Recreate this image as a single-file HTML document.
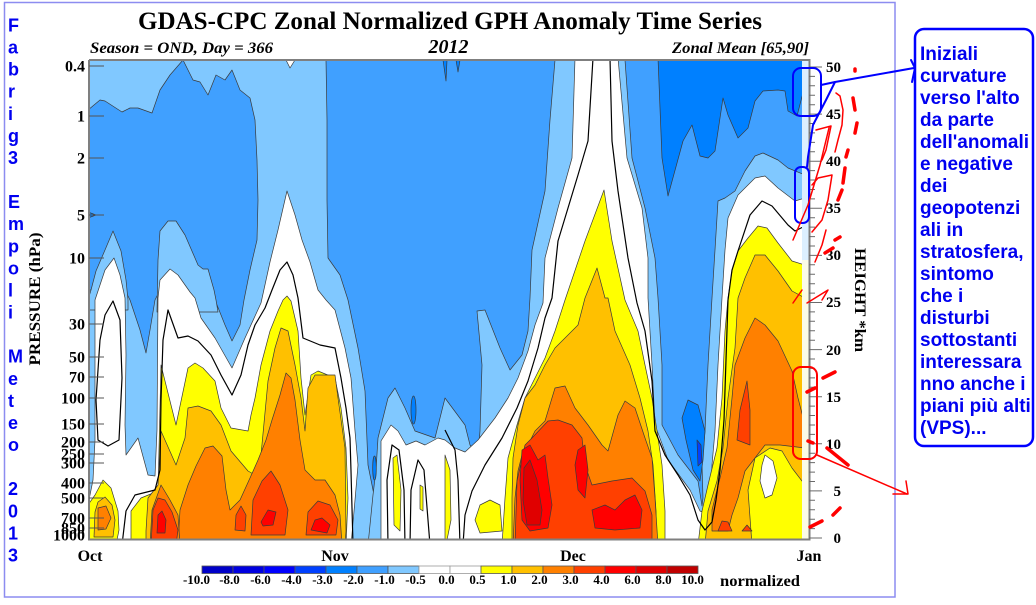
<!DOCTYPE html>
<html><head><meta charset="utf-8"><style>html,body{margin:0;padding:0;background:#fff}svg{display:block}</style></head>
<body>
<svg width="1036" height="605" viewBox="0 0 1036 605" xmlns="http://www.w3.org/2000/svg" font-family="'Liberation Serif', serif">
<rect width="1036" height="605" fill="#fff"/>
<rect x="4.5" y="2.5" width="890.5" height="594.5" fill="none" stroke="#8c8cf0" stroke-width="1.5"/>
<defs><clipPath id="c"><rect x="89" y="60" width="713" height="479"/></clipPath></defs>
<g clip-path="url(#c)" stroke="#3a3a3a" stroke-width="0.7" stroke-linejoin="round">
<rect x="80" y="50" width="730" height="500" fill="#40a0ff" stroke="none"/>
<polygon fill="#80c8ff" points="89,60 326,60 327,120 327,200 328,258 340,275 348,300 358,348 365,391 368,465 375,500 382,545 89,545"/>
<polygon fill="#40a0ff" points="88,110 100,100 105,101 122,112 130,108 138,108 152,113 160,90 170,75 183,60 193,80 200,82 208,95 216,75 225,80 232,70 240,90 250,98 255,120 257,160 258,200 257,240 250,270 244,300 240,325 232,341 225,325 215,300 210,290 160,290 155,300 150,330 146,353 140,330 130,300 125,290 88,290"/>
<polygon fill="#0080ff" points="88,212 96,215 88,218"/>
<polygon fill="#80c8ff" points="88,300 91,290 96,271 105,250 113,231 121,251 126,280 128,300 128,310 88,310"/>
<polygon fill="#80c8ff" points="157,312 158,260 160,231 168,221 176,221 185,235 198,265 203,269 208,269 214,290 216,300 218,312"/>
<polygon fill="#fff" points="286,60 295,60 290,68"/>
<polygon fill="#0080ff" points="443,60 447,60 446,81"/>
<polygon fill="#0080ff" points="456,60 460,60 458,72"/>
<polygon fill="#80c8ff" points="368,545 373,495 376,470 378,438 388,398 395,388 405,408 415,431 435,438 445,398 465,425 470,445 478,455 480,431 482,365 477,311 485,310 500,348 510,370 522,355 528,331 530,298 532,250 545,191 550,120 555,60 625,60 632,158 645,208 655,258 658,298 662,365 662,425 678,455 698,481 702,506 703,498 702,465 705,431 708,365 712,298 715,250 718,201 725,198 735,191 745,171 755,156 763,153 778,160 788,168 805,175 805,545"/>
<polygon fill="#0080ff" points="658,58 805,58 805,85 797,116 788,111 785,91 778,90 763,91 755,101 748,128 738,138 728,115 723,98 720,118 715,151 708,158 700,156 692,125 683,141 668,196 662,158"/>
<polygon fill="#0080ff" points="688,400 698,405 705,431 703,460 700,481 693,470 686,440 682,418"/>
<polygon fill="#0040ff" points="697,440 701,445 702,462 698,466"/>
<ellipse cx="413.5" cy="410" rx="2.5" ry="14" fill="#0080ff"/>
<ellipse cx="374.5" cy="468" rx="1.8" ry="12" fill="#0080ff"/>
<polygon fill="#fff" points="88,545 88,505 93,480 95,440 95,300 100,285 105,270 114,258 120,275 125,298 126,355 125,425 126,455 138,438 148,475 155,476 157,430 158,298 160,280 170,269 178,275 190,292 195,298 201,318 215,338 232,368 245,338 261,303 270,262 278,230 287,191 295,215 302,240 310,262 318,290 326,300 335,310 345,348 351,378 355,431 358,465 355,500 351,545"/>
<polygon fill="#fff" points="381,545 381,441 391,425 398,431 406,445 416,441 425,445 438,438 445,440 455,448 465,452 478,440 495,418 508,398 518,378 528,351 535,325 543,303 545,258 558,208 572,158 575,58 618,58 627,158 642,208 648,258 648,298 652,365 655,425 668,460 690,490 700,511 705,513 710,505 712,465 715,431 718,365 722,298 725,250 728,218 738,195 755,178 765,176 778,188 795,201 805,198 805,545"/>
<polygon fill="#ffff00" points="131,545 131,511 141,498 158,491 161,365 176,425 188,368 195,363 203,368 215,381 221,408 231,428 248,431 251,415 255,398 261,365 270,331 278,311 283,300 287,296 291,301 298,331 301,378 305,415 311,375 318,371 335,378 341,408 346,448 348,498 346,545"/>
<polygon fill="#ffff00" points="88,545 88,505 95,495 103,480 111,488 118,511 119,530 116,545"/>
<polygon fill="#ffc000" points="146,545 146,531 148,498 158,485 161,431 176,465 185,438 188,408 198,406 211,411 221,425 231,451 248,471 255,475 261,455 268,381 275,348 281,328 288,331 295,365 301,398 305,431 308,388 315,375 335,375 338,398 345,448 346,531 345,545"/>
<polygon fill="#ffc000" points="94,537 95,512 98,502 105,497 112,505 115,520 113,537"/>
<polygon fill="#ff8000" points="98,530 98,508 106,506 111,518 106,529"/>
<polygon fill="#ff8000" points="178,545 180,510 188,485 196,466 205,448 213,446 222,456 226,490 230,510 240,500 250,478 258,460 266,440 272,420 280,395 286,373 291,378 295,400 300,440 305,470 315,480 325,480 335,495 340,515 342,545"/>
<polygon fill="#ff8000" points="150,545 152,510 161,485 170,500 178,515 180,545"/>
<polygon fill="#ff4000" points="151,545 153,510 158,498 165,500 172,512 178,530 176,545"/>
<polygon fill="#ff4000" points="235,530 236,515 241,506 246,515 245,531"/>
<polygon fill="#ff4000" points="251,535 253,500 262,481 271,471 280,485 288,510 285,535"/>
<polygon fill="#ff4000" points="306,535 308,512 318,501 330,505 338,520 336,535"/>
<polygon fill="#ff0000" points="157,533 158,515 162,511 166,520 165,533"/>
<polygon fill="#ff0000" points="261,522 268,510 276,512 273,525 263,526"/>
<polygon fill="#ff0000" points="311,530 315,520 322,518 330,525 327,533"/>
<polygon fill="#ffff00" points="502,545 505,498 508,458 517,425 525,398 535,378 545,358 555,331 565,300 585,241 604,190 612,241 625,300 638,331 645,365 652,398 657,431 662,465 665,511 665,545"/>
<polygon fill="#ffff00" points="475,520 480,505 490,500 500,505 502,531 480,533"/>
<polygon fill="#ffff00" points="445,455 450,470 451,520 447,540 445,540"/>
<polygon fill="#ffff00" points="393,458 397,455 401,490 400,531 394,525"/>
<polygon fill="#ffff00" points="420,485 423,487 423,511 420,509"/>
<polygon fill="#ffff00" points="698,545 702,511 708,485 717,448 722,398 725,331 728,298 732,271 738,251 748,238 758,226 767,228 778,243 792,261 805,265 805,545"/>
<polygon fill="#ffc000" points="512,545 512,498 513,458 518,425 525,398 535,385 545,365 555,348 568,335 578,325 585,298 597,268 605,298 608,298 615,331 630,365 640,398 648,431 653,465 656,511 656,545"/>
<polygon fill="#ffc000" points="705,545 708,511 717,481 723,448 728,398 735,348 738,298 745,278 755,255 765,255 778,271 792,291 805,298 805,545"/>
<polygon fill="#ff8000" points="513,545 515,498 518,471 522,455 528,445 535,431 545,421 555,388 565,386 575,408 588,425 602,445 608,451 618,415 625,401 635,408 645,438 652,458 655,498 658,545"/>
<polygon fill="#ff8000" points="712,531 712,510 720,478 727,448 732,398 735,365 745,338 755,318 765,325 778,341 792,371 798,398 805,425 805,448 780,445 765,445 755,458 745,471 738,498 732,515 728,531"/>
<polygon fill="#ffff00" points="752,545 748,490 755,458 770,448 782,451 792,468 805,485 805,545"/>
<polygon fill="#fff" points="765,455 773,461 777,478 772,495 765,498 760,481 762,465"/>
<polygon fill="#ff4000" points="737,440 740,410 747,381 750,410 750,445"/>
<polygon fill="#ff4000" points="718,531 722,521 728,522 732,531"/>
<polygon fill="#ff4000" points="742,531 747,525 752,531"/>
<polygon fill="#ff4000" points="525,445 532,438 548,421 558,420 572,425 582,438 585,465 592,485 612,481 632,478 645,491 652,515 652,545 515,545 517,481"/>
<polygon fill="#ff0000" points="522,450 530,445 538,460 545,455 548,478 552,505 548,528 530,531 522,520 520,480"/>
<polygon fill="#ff0000" points="578,450 585,445 588,470 585,498 578,490 575,465"/>
<polygon fill="#ff0000" points="592,510 605,505 615,510 625,500 635,495 642,510 640,528 615,530 595,528"/>
<polygon fill="#e00000" points="524,468 530,460 537,480 542,510 540,525 527,525 523,500"/>
<g fill="none" stroke="#000" stroke-width="1.2">
<polyline points="122,545 126,511 135,495 155,490 160,470 161,400 163,340 168,310 178,338 188,336 198,341 211,355 221,375 232,395 241,375 248,345 255,325 265,308 272,290 280,270 287,262 293,275 298,298 303,338 320,345 335,348 341,378 346,408 350,438 351,471 353,545"/>
<polygon points="113,301 120,320 122,378 119,440 108,446 98,440 96,400 100,340 105,315"/>
<polyline points="593,58 588,141 578,175 558,241 552,298 545,318 538,348 528,381 517,408 502,438 485,465 472,491 465,515 463,545"/>
<polyline points="610,58 612,141 618,191 628,258 637,303 645,331 652,381 655,431 665,455 678,475 690,495 698,520 705,530 712,522 716,500 720,470 724,420 726,360 728,300 732,270 738,251 750,215 762,201 772,206 788,225 795,231 805,226"/>
<polyline points="445,430 455,450 458,480 460,545"/>
<polyline points="388,545 387,480 392,445 399,450 404,490 405,545"/>
<polyline points="410,545 411,490 418,460 424,470 428,520 430,545"/>
</g>
</g>
<rect x="802" y="60" width="7" height="200" fill="#dcefff"/>
<rect x="802" y="260" width="7" height="279" fill="#fbfbe6"/>
<path d="M89,60 V539.5 H809.5 V60 H89" fill="none" stroke="#7f7f7f" stroke-width="2"/>
<g stroke="#555" stroke-width="1">
<line x1="89" y1="66" x2="104" y2="66"/><line x1="89" y1="116" x2="104" y2="116"/><line x1="89" y1="158" x2="104" y2="158"/><line x1="89" y1="215" x2="104" y2="215"/><line x1="89" y1="258" x2="104" y2="258"/><line x1="89" y1="324" x2="104" y2="324"/><line x1="89" y1="357" x2="104" y2="357"/><line x1="89" y1="377" x2="104" y2="377"/><line x1="89" y1="398" x2="104" y2="398"/><line x1="89" y1="424" x2="104" y2="424"/><line x1="89" y1="442" x2="104" y2="442"/><line x1="89" y1="454" x2="104" y2="454"/><line x1="89" y1="463" x2="104" y2="463"/><line x1="89" y1="483" x2="104" y2="483"/><line x1="89" y1="498" x2="104" y2="498"/><line x1="89" y1="518" x2="104" y2="518"/><line x1="89" y1="528" x2="104" y2="528"/>
</g>
<g font-weight="bold" font-size="16" text-anchor="end" fill="#000">
<text x="85" y="71.5">0.4</text><text x="85" y="121.5">1</text><text x="85" y="163.5">2</text><text x="85" y="220.5">5</text><text x="85" y="263.5">10</text><text x="85" y="329.5">30</text><text x="85" y="362.5">50</text><text x="85" y="382.5">70</text><text x="85" y="403.5">100</text><text x="85" y="429.5">150</text><text x="85" y="447.5">200</text><text x="85" y="459.5">250</text><text x="85" y="468.5">300</text><text x="85" y="488.5">400</text><text x="85" y="503.5">500</text><text x="85" y="523.5">700</text><text x="85" y="533.5">850</text><text x="85" y="540.5">1000</text>
</g>
<g stroke="#6a6a6a" stroke-width="1">
<path d="M809,538h6M809,528.6h6M809,519.2h6M809,509.7h6M809,500.3h6M809,490.9h13M809,481.5h6M809,472.1h6M809,462.6h6M809,453.2h6M809,443.8h13M809,434.4h6M809,425h6M809,415.5h6M809,406.1h6M809,396.7h13M809,387.3h6M809,377.9h6M809,368.4h6M809,359h6M809,349.6h13M809,340.2h6M809,330.8h6M809,321.3h6M809,311.9h6M809,302.5h13M809,293.1h6M809,283.7h6M809,274.2h6M809,264.8h6M809,255.4h13M809,246h6M809,236.6h6M809,227.1h6M809,217.7h6M809,208.3h13M809,198.9h6M809,189.5h6M809,180h6M809,170.6h6M809,161.2h13M809,151.8h6M809,142.4h6M809,132.9h6M809,123.5h6M809,114.1h13M809,104.7h6M809,95.3h6M809,85.8h6M809,76.4h6M809,67h13M809,538h13"/>
</g>
<g font-weight="bold" font-size="15" text-anchor="end" fill="#000">
<text x="841" y="72">50</text><text x="841" y="119">45</text><text x="841" y="166">40</text><text x="841" y="213">35</text><text x="841" y="260">30</text><text x="841" y="307">25</text><text x="841" y="355">20</text><text x="841" y="402">15</text><text x="841" y="449">10</text><text x="841" y="496">5</text><text x="841" y="543">0</text>
</g>
<text x="138" y="29" font-size="25" font-weight="bold" textLength="624" lengthAdjust="spacingAndGlyphs">GDAS-CPC Zonal Normalized GPH Anomaly Time Series</text>
<text x="90" y="53" font-size="16" font-weight="bold" font-style="italic" textLength="183" lengthAdjust="spacingAndGlyphs">Season = OND, Day = 366</text>
<text x="448.5" y="53" font-size="20" font-weight="bold" font-style="italic" text-anchor="middle">2012</text>
<text x="672" y="53" font-size="16" font-weight="bold" font-style="italic" textLength="137" lengthAdjust="spacingAndGlyphs">Zonal Mean [65,90]</text>
<text transform="translate(40,299) rotate(-90)" font-size="16" font-weight="bold" text-anchor="middle" textLength="133" lengthAdjust="spacingAndGlyphs">PRESSURE (hPa)</text>
<text transform="translate(855,300) rotate(90)" font-size="16" font-weight="bold" text-anchor="middle" textLength="104" lengthAdjust="spacingAndGlyphs">HEIGHT *km</text>
<g font-size="16" font-weight="bold" text-anchor="middle">
<text x="90" y="561">Oct</text><text x="335" y="561">Nov</text><text x="573" y="561">Dec</text><text x="809" y="561">Jan</text>
</g>
<g stroke="#555" stroke-width="0.8">
<rect x="202" y="566" width="31" height="7.5" fill="#0000c8"/><rect x="233" y="566" width="31" height="7.5" fill="#0000e0"/><rect x="264" y="566" width="31" height="7.5" fill="#0000ff"/><rect x="295" y="566" width="31" height="7.5" fill="#0040ff"/><rect x="326" y="566" width="31" height="7.5" fill="#0080ff"/><rect x="357" y="566" width="31" height="7.5" fill="#40a0ff"/><rect x="388" y="566" width="31" height="7.5" fill="#80c8ff"/><rect x="419" y="566" width="31" height="7.5" fill="#fff" stroke="#999"/><rect x="450" y="566" width="31" height="7.5" fill="#fff" stroke="#999"/><rect x="481" y="566" width="31" height="7.5" fill="#ffff00"/><rect x="512" y="566" width="31" height="7.5" fill="#ffc000"/><rect x="543" y="566" width="31" height="7.5" fill="#ff8000"/><rect x="574" y="566" width="31" height="7.5" fill="#ff4000"/><rect x="605" y="566" width="31" height="7.5" fill="#ff0000"/><rect x="636" y="566" width="31" height="7.5" fill="#e00000"/><rect x="667" y="566" width="31" height="7.5" fill="#c00000"/>
</g>
<g font-size="13" font-weight="bold" text-anchor="middle">
<text x="196.5" y="584">-10.0</text><text x="229.5" y="584">-8.0</text><text x="260.5" y="584">-6.0</text><text x="291.5" y="584">-4.0</text><text x="322.5" y="584">-3.0</text><text x="353.5" y="584">-2.0</text><text x="384.5" y="584">-1.0</text><text x="415.5" y="584">-0.5</text><text x="446.5" y="584">0.0</text><text x="477.5" y="584">0.5</text><text x="508.5" y="584">1.0</text><text x="539.5" y="584">2.0</text><text x="570.5" y="584">3.0</text><text x="601.5" y="584">4.0</text><text x="632.5" y="584">6.0</text><text x="663.5" y="584">8.0</text><text x="692.5" y="584">10.0</text>
</g>
<text x="720" y="586" font-size="16" font-weight="bold" textLength="80" lengthAdjust="spacingAndGlyphs">normalized</text>
<g font-family="'Liberation Sans', sans-serif" font-weight="bold" font-size="18" fill="#0000f0">
<text x="8" y="31.5">F</text><text x="8" y="53.6">a</text><text x="8" y="75.7">b</text><text x="8" y="97.7">r</text><text x="8" y="119.8">i</text><text x="8" y="141.9">g</text><text x="8" y="164">3</text>
<text x="8" y="208.2">E</text><text x="8" y="230.2">m</text><text x="8" y="252.3">p</text><text x="8" y="274.4">o</text><text x="8" y="296.5">l</text><text x="8" y="318.6">i</text>
<text x="8" y="362.7">M</text><text x="8" y="384.8">e</text><text x="8" y="406.9">t</text><text x="8" y="429">e</text><text x="8" y="451.1">o</text>
<text x="8" y="495.2">2</text><text x="8" y="517.3">0</text><text x="8" y="539.4">1</text><text x="8" y="561.5">3</text>
</g>
<rect x="915" y="29" width="118" height="417" rx="9" fill="#fff" stroke="#0000ff" stroke-width="2.5"/>
<g font-family="'Liberation Sans', sans-serif" font-weight="bold" font-size="19" fill="#0000f0">
<text x="920" y="60">Iniziali</text><text x="920" y="82">curvature</text><text x="920" y="104">verso l'alto</text><text x="920" y="126">da parte</text><text x="920" y="148">dell'anomali</text><text x="920" y="170">e negative</text><text x="920" y="192">dei</text><text x="920" y="214">geopotenzi</text><text x="920" y="236">ali in</text><text x="920" y="258">stratosfera,</text><text x="920" y="280">sintomo</text><text x="920" y="302">che i</text><text x="920" y="324">disturbi</text><text x="920" y="346">sottostanti</text><text x="920" y="368">interessara</text><text x="920" y="390">nno anche i</text><text x="920" y="412">piani più alti</text><text x="920" y="434">(VPS)...</text>
</g>
<g fill="none" stroke="#0000ff" stroke-width="2" stroke-linecap="round" stroke-linejoin="round">
<rect x="793" y="68" width="28" height="48" rx="8"/>
<rect x="795" y="167" width="14" height="56" rx="6"/>
<polyline points="821,85 835,82 914,68"/>
<polyline points="835,82 826,100 813,125 808,157 807,167"/>
<polyline points="911,60 915,68 912,82"/>
</g>
<g fill="none" stroke="#ff0000" stroke-width="1.5" stroke-linecap="round" stroke-linejoin="round">
<rect x="793" y="367" width="24" height="92" rx="8" stroke-width="2"/>
<polyline points="817,455 907,494"/>
<polyline points="906,481 908,494 893,494"/>
<polyline points="793,240 808,205 820,165 829,128"/>
<polyline points="816,130 831,126 826,150 822,160"/>
<polyline points="812,185 818,178 832,175 828,200 822,220 812,232"/>
<polyline points="836,93 840,96 843,110 842,125 838,140 835,152"/>
<polyline points="793,303 802,290"/>
<polyline points="807,303 828,290 822,300"/>
<polyline points="815,262 822,245 826,230"/>
</g>
<g stroke="#ff0000" stroke-width="3.5" stroke-linecap="round" fill="none">
<path d="M855,69v2M853,98l2,12M857,123l-2,10M848,150l-2,7M845,168l-2,15M842,190l-4,10M840,237l-5,3M833,248l-8,5M835,372l-12,6M815,388l-8,4M808,441l5,2M827,448l21,17M840,508l-7,7M822,521l-12,6"/>
</g>
</svg>
</body></html>
